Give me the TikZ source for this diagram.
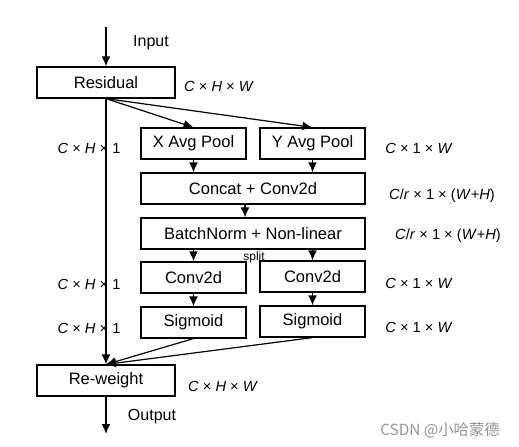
\documentclass[tikz,border=0pt]{standalone}
\usepackage{fontspec}
\setmainfont{Liberation Sans}
\newfontfamily\cjk{Noto Sans CJK SC}
\usetikzlibrary{arrows.meta,positioning}

\begin{document}
\begin{tikzpicture}[x=0.75pt, y=-0.75pt, line width=0.9pt, >={Latex[length=7.5pt,width=6.5pt]},
  box/.style={rectangle, draw, inner sep=0pt, minimum height=23.25pt, font=\fontsize{12.4}{14}\selectfont},
  bigbox/.style={box, minimum width=103.5pt},
  smallbox/.style={box, minimum width=78.75pt},
  widebox/.style={box, minimum width=168pt},
  dim/.style={font=\fontsize{11}{13}\selectfont, inner sep=0pt},
  side/.style={font=\fontsize{12}{14}\selectfont, inner sep=0pt}]
  \useasboundingbox (0,0) rectangle (519,447);
  \coordinate (in) at (106,27);
  \coordinate (out) at (106,434);
  \node[bigbox] (res) at (106,82.5) {Residual};
  \node[bigbox] (rew) at (106,380.5) {Re-weight};
  \node[smallbox] (xpool) at (193.5,143.5) {X Avg Pool};
  \node[smallbox] (ypool) at (312.5,143.5) {Y Avg Pool};
  \node[widebox] (cat) at (253,188.5) {Concat + Conv2d};
  \node[widebox] (bn) at (253,233.5) {BatchNorm + Non-linear};
  \node[smallbox] (convx) at (193.5,277.5) {Conv2d};
  \node[smallbox] (convy) at (312.5,276.5) {Conv2d};
  \node[smallbox] (sigx) at (193.5,322.5) {Sigmoid};
  \node[smallbox] (sigy) at (312.5,321.5) {Sigmoid};

  \draw[->] (in) -- (res.north);
  \draw[->] (res.south) -- (rew.north);
  \draw[->] (res.south) -- (xpool.north);
  \draw[->] (res.south) -- (ypool.north);
  \draw[->] (xpool.south) -- (xpool.south |- cat.north);
  \draw[->] (ypool.south) -- (ypool.south |- cat.north);
  \draw[->] (cat.south -| 245,0) -- (bn.north -| 245,0);
  \draw[->] (convx.north |- bn.south) -- (convx.north);
  \draw[->] (convy.north |- bn.south) -- (convy.north);
  \draw[->] (convx.south) -- (sigx.north);
  \draw[->] (convy.south) -- (sigy.north);
  \draw[->] (sigx.south) -- (rew.north);
  \draw[->] (sigy.south) -- (rew.north);
  \draw[->] (rew.south) -- (out);

  \node[side] (inlbl) at (151,43) {Input};
  \node[side] (outlbl) at (152,417) {Output};
  \node[font=\fontsize{9}{10}\selectfont, inner sep=0pt] (split) at (254,257) {split};
  \node[dim] (d1) at (219,86) {\textit{C} × \textit{H} × \textit{W}};
  \node[dim] (d2) at (223,386) {\textit{C} × \textit{H} × \textit{W}};
  \node[dim] (d3) at (89,148) {\textit{C} × \textit{H} × 1};
  \node[dim] (d4) at (89,284) {\textit{C} × \textit{H} × 1};
  \node[dim] (d5) at (89,328) {\textit{C} × \textit{H} × 1};
  \node[dim] (d6) at (419,148) {\textit{C} × 1 × \textit{W}};
  \node[dim] (d7) at (419,283) {\textit{C} × 1 × \textit{W}};
  \node[dim] (d8) at (419,327) {\textit{C} × 1 × \textit{W}};
  \node[dim] (d9) at (442,196) {\textit{C}/\textit{r} × 1 × (\textit{W}+\textit{H})};
  \node[dim] (d10) at (448,236) {\textit{C}/\textit{r} × 1 × (\textit{W}+\textit{H})};
  \node[font=\cjk\fontsize{11.5}{13}\selectfont, text=black!42, inner sep=0pt] (mark) at (440,430) {CSDN @小哈蒙德};
\end{tikzpicture}
\end{document}
